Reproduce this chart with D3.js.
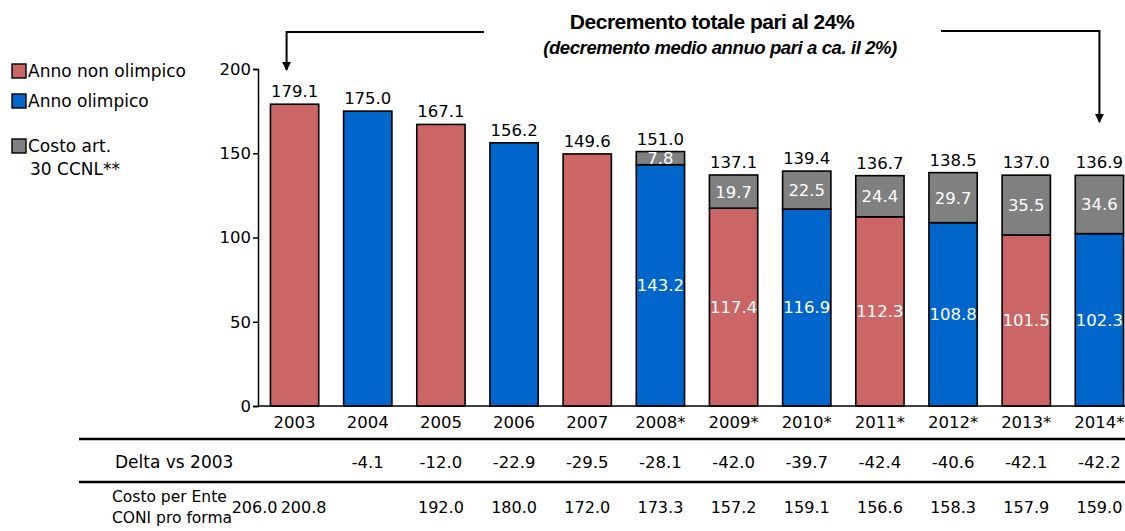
<!DOCTYPE html>
<html>
<head>
<meta charset="utf-8">
<script src="https://cdn.jsdelivr.net/npm/d3@7"></script>
<style>
  body { margin: 0; background: #fff; }
  svg { display: block; font-family: "DejaVu Sans", Verdana, sans-serif; }
</style>
</head>
<body>
<svg id="chart" width="1125" height="531"></svg>
<script>
// data
const years = ["2003", "2004", "2005", "2006", "2007", "2008*", "2009*", "2010*", "2011*", "2012*", "2013*", "2014*"];
const olympic = [false, true, false, true, false, true, false, true, false, true, false, true];
const baseCost = [179.1, 175.0, 167.1, 156.2, 149.6, 143.2, 117.4, 116.9, 112.3, 108.8, 101.5, 102.3];
const art30 = [0, 0, 0, 0, 0, 7.8, 19.7, 22.5, 24.4, 29.7, 35.5, 34.6];
const totals = [179.1, 175.0, 167.1, 156.2, 149.6, 151.0, 137.1, 139.4, 136.7, 138.5, 137.0, 136.9];
const deltaVs2003 = [null, "-4.1", "-12.0", "-22.9", "-29.5", "-28.1", "-42.0", "-39.7", "-42.4", "-40.6", "-42.1", "-42.2"];
const costoEnte = ["206.0", "200.8", "192.0", "180.0", "172.0", "173.3", "157.2", "159.1", "156.6", "158.3", "157.9", "159.0"];
const yTicks = [0, 50, 100, 150, 200];

const red = "#CC6666", blue = "#0066CC", grey = "#808080";

const svg = d3.select("#chart");

// scales
const x = d3.scaleBand()
    .domain(years)
    .range([258, 1136])
    .paddingInner(0.34)
    .paddingOuter(0.17);
const y = d3.scaleLinear().domain([0, 200]).range([406, 69]);
const bw = x.bandwidth();

// y axis
const yAxisG = svg.append("g")
    .attr("transform", "translate(258,0)")
    .call(d3.axisLeft(y).tickValues(yTicks).tickSize(5).tickPadding(2));
yAxisG.select(".domain").attr("stroke-width", 1.5);
yAxisG.selectAll(".tick line").attr("stroke-width", 1.5);
yAxisG.selectAll(".tick text")
    .style("font-family", "DejaVu Sans, sans-serif")
    .style("font-size", "16.5px")
    .attr("fill", "#000");

// bars
const rows = years.map((yr, i) => ({ yr, i, base: baseCost[i], extra: art30[i], total: totals[i] }));

svg.append("g").selectAll("rect.base")
    .data(rows)
    .join("rect")
    .attr("class", "base")
    .attr("x", d => x(d.yr))
    .attr("y", d => y(d.base))
    .attr("width", bw)
    .attr("height", d => y(0) - y(d.base))
    .attr("fill", d => olympic[d.i] ? blue : red)
    .attr("stroke", "#000")
    .attr("stroke-width", 1.6);

svg.append("g").selectAll("rect.extra")
    .data(rows.filter(d => d.extra > 0))
    .join("rect")
    .attr("class", "extra")
    .attr("x", d => x(d.yr))
    .attr("y", d => y(d.base + d.extra))
    .attr("width", bw)
    .attr("height", d => y(d.base) - y(d.base + d.extra))
    .attr("fill", grey)
    .attr("stroke", "#000")
    .attr("stroke-width", 1.6);

// x axis baseline
svg.append("line")
    .attr("x1", 258).attr("x2", 1125)
    .attr("y1", y(0)).attr("y2", y(0))
    .attr("stroke", "#000").attr("stroke-width", 1.5);

// category labels
svg.append("g").selectAll("text")
    .data(years)
    .join("text")
    .attr("x", d => x(d) + bw / 2)
    .attr("y", 428)
    .attr("text-anchor", "middle")
    .style("font-size", "16.5px")
    .text(d => d);

// totals above bars
svg.append("g").selectAll("text")
    .data(rows)
    .join("text")
    .attr("x", d => x(d.yr) + bw / 2)
    .attr("y", d => y(d.base + d.extra) - 7)
    .attr("text-anchor", "middle")
    .style("font-size", "16.5px")
    .text(d => d.total.toFixed(1));

// inner labels, from 2008 on
svg.append("g").selectAll("text")
    .data(rows.filter(d => d.extra > 0))
    .join("text")
    .attr("x", d => x(d.yr) + bw / 2)
    .attr("y", d => y(d.base / 2))
    .attr("dy", "0.36em")
    .attr("text-anchor", "middle")
    .attr("fill", "#fff")
    .style("font-size", "16.5px")
    .text(d => d.base.toFixed(1));

svg.append("g").selectAll("text")
    .data(rows.filter(d => d.extra > 0))
    .join("text")
    .attr("x", d => x(d.yr) + bw / 2)
    .attr("y", d => y(d.base + d.extra / 2))
    .attr("dy", "0.36em")
    .attr("text-anchor", "middle")
    .attr("fill", "#fff")
    .style("font-size", "16.5px")
    .text(d => d.extra.toFixed(1));

// legend
const legend = [
    { c: red, t: ["Anno non olimpico"], y: 71 },
    { c: blue, t: ["Anno olimpico"], y: 101 },
    { c: grey, t: ["Costo art.", "30 CCNL**"], y: 146 }
];
const lg = svg.append("g").selectAll("g").data(legend).join("g");
lg.append("rect")
    .attr("x", 12).attr("y", d => d.y - 7)
    .attr("width", 14).attr("height", 14)
    .attr("fill", d => d.c).attr("stroke", "#000").attr("stroke-width", 1.4);
lg.append("text")
    .attr("x", 28).attr("y", d => d.y)
    .attr("dy", "0.36em")
    .style("font-size", "17px")
    .selectAll("tspan")
    .data(d => d.t)
    .join("tspan")
    .attr("x", (t, i) => i ? 30 : 28)
    .attr("dy", (t, i) => i ? "1.35em" : null)
    .text(t => t);

// title and annotation arrows
svg.append("text")
    .attr("x", 712).attr("y", 29)
    .attr("text-anchor", "middle")
    .style("font-family", "Liberation Sans, Arial, sans-serif")
    .style("font-weight", "bold")
    .style("font-size", "21px")
    .style("letter-spacing", "-0.5px")
    .text("Decremento totale pari al 24%");
svg.append("text")
    .attr("x", 720).attr("y", 54)
    .attr("text-anchor", "middle")
    .style("font-family", "Liberation Sans, Arial, sans-serif")
    .style("font-weight", "bold")
    .style("font-style", "italic")
    .style("font-size", "18.5px")
    .style("letter-spacing", "-0.4px")
    .text("(decremento medio annuo pari a ca. il 2%)");

svg.append("defs").append("marker")
    .attr("id", "arrow")
    .attr("viewBox", "0 0 10 10")
    .attr("refX", 9).attr("refY", 5)
    .attr("markerWidth", 4.5).attr("markerHeight", 4.5)
    .attr("orient", "auto")
    .append("path").attr("d", "M0,0L10,5L0,10z").attr("fill", "#000");

const arrowL = x("2003") + bw / 2 - 8;
const arrowR = x("2014*") + bw / 2;
svg.append("path")
    .attr("d", `M484,32H${arrowL}V70`)
    .attr("fill", "none").attr("stroke", "#000").attr("stroke-width", 2)
    .attr("marker-end", "url(#arrow)");
svg.append("path")
    .attr("d", `M941,31H${arrowR}V122`)
    .attr("fill", "none").attr("stroke", "#000").attr("stroke-width", 2)
    .attr("marker-end", "url(#arrow)");

// table below the chart
[439, 482].forEach(ly => {
    svg.append("line")
        .attr("x1", 79).attr("x2", 1125)
        .attr("y1", ly).attr("y2", ly)
        .attr("stroke", "#000").attr("stroke-width", 2.5);
});

svg.append("text").attr("x", 115).attr("y", 462).attr("dy", "0.36em")
    .style("font-size", "17px").text("Delta vs 2003");
svg.append("text").attr("x", 112).attr("y", 496).attr("dy", "0.36em")
    .style("font-size", "15.5px").text("Costo per Ente");
svg.append("text").attr("x", 112).attr("y", 517).attr("dy", "0.36em")
    .style("font-size", "15.5px").text("CONI pro forma");

svg.append("g").selectAll("text")
    .data(years.map((yr, i) => ({ yr, v: deltaVs2003[i] })).filter(d => d.v))
    .join("text")
    .attr("x", d => x(d.yr) + bw / 2)
    .attr("y", 462).attr("dy", "0.36em")
    .attr("text-anchor", "middle")
    .style("font-size", "16.5px")
    .text(d => d.v);

// the first two cost values crowd into the 2003 column in the original
const costShift = [-40, 9, 0, 0, 0, 0, 0, 0, 0, 0, 0, 0];
const costCol = ["2003", "2003", "2005", "2006", "2007", "2008*", "2009*", "2010*", "2011*", "2012*", "2013*", "2014*"];
svg.append("g").selectAll("text")
    .data(costoEnte)
    .join("text")
    .attr("x", (d, i) => x(costCol[i]) + bw / 2 + costShift[i])
    .attr("y", 507).attr("dy", "0.36em")
    .attr("text-anchor", "middle")
    .style("font-size", "16px")
    .text(d => d);
</script>
</body>
</html>
